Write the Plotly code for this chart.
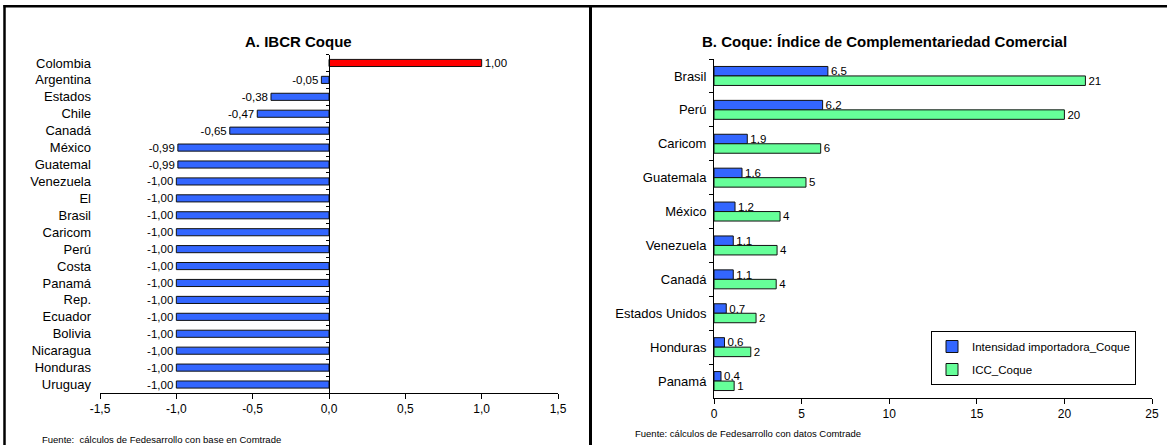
import plotly.graph_objects as go

# Panel A: IBCR Coque
paises_a = ["Colombia", "Argentina", "Estados", "Chile", "Canadá", "México", "Guatemal",
            "Venezuela", "El", "Brasil", "Caricom", "Perú", "Costa", "Panamá", "Rep.",
            "Ecuador", "Bolivia", "Nicaragua", "Honduras", "Uruguay"]
ibcr = [1.00, -0.05, -0.38, -0.47, -0.65, -0.99, -0.99, -1.00, -1.00, -1.00,
        -1.00, -1.00, -1.00, -1.00, -1.00, -1.00, -1.00, -1.00, -1.00, -1.00]
ticks_a = [-1.5, -1.0, -0.5, 0.0, 0.5, 1.0, 1.5]
ticktext_a = ["-1,5", "-1,0", "-0,5", "0,0", "0,5", "1,0", "1,5"]

# Panel B: Índice de Complementariedad Comercial
paises_b = ["Brasil", "Perú", "Caricom", "Guatemala", "México", "Venezuela", "Canadá",
            "Estados Unidos", "Honduras", "Panamá"]
intensidad = [6.5, 6.2, 1.9, 1.6, 1.2, 1.1, 1.1, 0.7, 0.6, 0.4]
icc = [21.2, 20.0, 6.09, 5.25, 3.77, 3.6, 3.55, 2.4, 2.1, 1.15]
ticks_b = [0, 5, 10, 15, 20, 25]

W, H = 1167, 445
FONT = "Liberation Sans, Arial, sans-serif"
AZUL = "#3366FF"
ROJO = "#FF0000"
VERDE = "#66FF99"


def px_x(p):
    return p / W


def px_y(p):
    return 1 - p / H


def coma(v, dec):
    return f"{v:.{dec}f}".replace(".", ",")


fig = go.Figure()

colores_a = [ROJO if v > 0 else AZUL for v in ibcr]
fig.add_trace(go.Bar(
    x=ibcr, y=paises_a, orientation="h", width=0.42,
    marker=dict(color=colores_a, line=dict(color="#111111", width=1)),
    text=[coma(v, 2) for v in ibcr], textposition="outside", constraintext="none",
    textfont=dict(size=11.5, color="#000000"), cliponaxis=False,
    xaxis="x", yaxis="y", showlegend=False,
))
# carries the zero-line axis with category ticks
fig.add_trace(go.Scatter(
    x=ibcr, y=paises_a, mode="markers", marker=dict(opacity=0),
    xaxis="x", yaxis="y2", hoverinfo="skip", showlegend=False,
))

fig.add_trace(go.Bar(
    x=intensidad, y=paises_b, orientation="h", name="Intensidad importadora_Coque",
    marker=dict(color=AZUL, line=dict(color="#111111", width=1)),
    text=[coma(v, 1) for v in intensidad], textposition="outside", constraintext="none",
    textfont=dict(size=11.5, color="#000000"), cliponaxis=False,
    xaxis="x2", yaxis="y3", legendgroup="a",
))
fig.add_trace(go.Bar(
    x=icc, y=paises_b, orientation="h", name="ICC_Coque",
    marker=dict(color=VERDE, line=dict(color="#111111", width=1)),
    text=[coma(v, 0) for v in icc], textposition="outside", constraintext="none",
    textfont=dict(size=11.5, color="#000000"), cliponaxis=False,
    xaxis="x2", yaxis="y3", legendgroup="b",
))

xa_dom = [px_x(100), px_x(558)]
xb_dom = [px_x(714), px_x(1152)]
n_a = len(paises_a)
n_b = len(paises_b)

axis_common = dict(showgrid=False, zeroline=False, linecolor="#000000", linewidth=1,
                   tickcolor="#000000", tickfont=dict(size=12, color="#000000"))

fig.update_layout(
    width=W, height=H, autosize=False,
    margin=dict(l=0, r=0, t=0, b=0),
    paper_bgcolor="white", plot_bgcolor="white",
    font=dict(family=FONT, color="#000000"),
    separators=",.",
    barmode="group", bargap=0.44, bargroupgap=0,
    xaxis=dict(domain=xa_dom, range=[-1.5, 1.5], tickvals=ticks_a, ticktext=ticktext_a,
               showline=True, ticks="outside", ticklen=5, anchor="y", automargin=False,
               **axis_common),
    yaxis=dict(domain=[px_y(393), px_y(54.5)], type="category", categoryarray=paises_a,
               range=[n_a - 0.5, -0.5], showline=False, ticks="", anchor="x",
               ticklabelstandoff=8, showgrid=False, zeroline=False, automargin=False,
               tickfont=dict(size=13, color="#000000")),
    yaxis2=dict(overlaying="y", anchor="free", position=(xa_dom[0] + xa_dom[1]) / 2,
                side="left", type="category", categoryarray=paises_a,
                range=[n_a - 0.5, -0.5], showline=True, ticks="outside",
                tickson="boundaries", ticklen=3, showticklabels=False, automargin=False,
                **axis_common),
    xaxis2=dict(domain=xb_dom, range=[0, 25], tickvals=ticks_b, showline=True,
                ticks="outside", ticklen=5, anchor="y3", automargin=False, **axis_common),
    yaxis3=dict(domain=[px_y(398), px_y(59)], type="category", categoryarray=paises_b,
                range=[n_b - 0.5, -0.5], showline=True, ticks="outside",
                tickson="boundaries", ticklen=4, ticklabelstandoff=4, anchor="x2",
                showgrid=False, zeroline=False, linecolor="#000000", tickcolor="#000000",
                automargin=False, tickfont=dict(size=13, color="#000000")),
    legend=dict(x=px_x(931), y=px_y(331), xanchor="left", yanchor="top",
                bgcolor="white", bordercolor="#000000", borderwidth=1,
                font=dict(size=11.5, color="#000000"), traceorder="grouped",
                tracegroupgap=4, entrywidth=212, itemwidth=30),
    annotations=[
        dict(text="<b>A. IBCR Coque</b>", x=px_x(298), y=px_y(42), xref="paper", yref="paper",
             showarrow=False, font=dict(size=15), xanchor="center", yanchor="middle"),
        dict(text="<b>B. Coque: Índice de Complementariedad Comercial</b>", x=px_x(884),
             y=px_y(42), xref="paper", yref="paper", showarrow=False, font=dict(size=15),
             xanchor="center", yanchor="middle"),
        dict(text="Fuente:  cálculos de Fedesarrollo con base en Comtrade", x=px_x(40),
             y=px_y(439), xref="paper", yref="paper", showarrow=False, font=dict(size=9.5),
             xanchor="left", yanchor="middle"),
        dict(text="Fuente: cálculos de Fedesarrollo con datos Comtrade", x=px_x(633),
             y=px_y(433), xref="paper", yref="paper", showarrow=False, font=dict(size=9.5),
             xanchor="left", yanchor="middle"),
    ],
    shapes=[
        dict(type="line", xref="paper", yref="paper", x0=px_x(3.5), x1=1, y0=px_y(6.2),
             y1=px_y(6.2), line=dict(color="#000000", width=2.5)),
        dict(type="line", xref="paper", yref="paper", x0=px_x(4.5), x1=px_x(4.5), y0=0,
             y1=px_y(5), line=dict(color="#000000", width=2.5)),
        dict(type="line", xref="paper", yref="paper", x0=px_x(590.5), x1=px_x(590.5), y0=0,
             y1=px_y(5), line=dict(color="#000000", width=3)),
    ],
)

fig.write_html("out.html")
